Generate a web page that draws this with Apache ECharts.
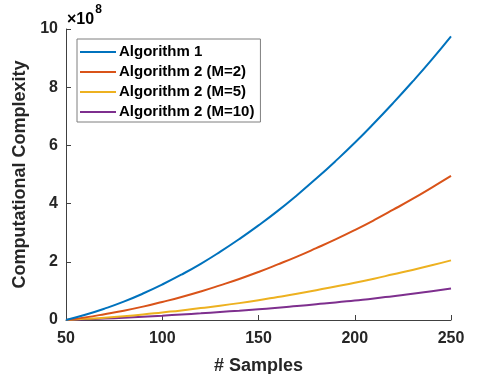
<!DOCTYPE html>
<html>
<head>
<meta charset="utf-8">
<script src="https://cdn.jsdelivr.net/npm/echarts@6/dist/echarts.min.js"></script>
<style>html,body{margin:0;padding:0;background:#fff;}#c{width:498px;height:374px;}</style>
</head>
<body>
<div id="c"></div>
<script>
// Data (values in units of 1e8)
var samples = [50,60,70,80,90,100,110,120,130,140,150,160,170,180,190,200,210,220,230,240,250];
var alg1 = [0,0.18,0.39,0.63,0.91,1.22,1.56,1.93,2.34,2.78,3.25,3.75,4.29,4.86,5.46,6.09,6.76,7.46,8.19,8.95,9.75];
var alg2M2 = [0,0.09,0.20,0.32,0.46,0.62,0.79,0.98,1.19,1.41,1.65,1.91,2.18,2.47,2.77,3.09,3.43,3.79,4.16,4.55,4.95];
var alg2M5 = [0,0.04,0.08,0.13,0.19,0.26,0.33,0.41,0.49,0.58,0.68,0.79,0.90,1.02,1.15,1.28,1.42,1.57,1.72,1.88,2.05];
var alg2M10 = [0,0.025,0.05,0.08,0.115,0.15,0.19,0.23,0.275,0.32,0.37,0.42,0.48,0.54,0.60,0.67,0.74,0.82,0.90,0.99,1.08];
var seriesNames = ['Algorithm 1','Algorithm 2 (M=2)','Algorithm 2 (M=5)','Algorithm 2 (M=10)'];
var seriesColors = ['#0072BD','#D95319','#EDB120','#7E2F8E'];
var xTicks = [50,100,150,200,250];
var yTicks = [0,2,4,6,8,10];

function pairs(arr){ return samples.map(function(s,i){ return [s, arr[i]]; }); }
var allData = [alg1, alg2M2, alg2M5, alg2M10];

var FONT = '"Liberation Sans", Arial, Helvetica, sans-serif';
var axisColor = '#404040';
var chart = echarts.init(document.getElementById('c'), null, {renderer:'canvas'});
chart.setOption({
  animation: false,
  backgroundColor: '#fff',
  grid: {left: 66, right: 47, top: 29, bottom: 54, containLabel: false, outerBoundsMode: 'none'},
  legend: {
    left: 77, top: 39,
    orient: 'vertical',
    data: seriesNames.map(function(n){ return {name:n, icon:'rect'}; }),
    itemWidth: 36, itemHeight: 2, itemGap: 4,
    padding: [5, 6, 2, 3],
    borderColor: '#7f7f7f', borderWidth: 1,
    backgroundColor: '#fff',
    textStyle: {fontFamily: FONT, fontWeight: 'bold', fontSize: 15, color: '#000', lineHeight: 16, padding: [0,0,0,-2]}
  },
  xAxis: {
    type: 'value', min: 50, max: 250, interval: 50,
    name: '# Samples', nameLocation: 'middle', nameGap: 37,
    nameTextStyle: {fontFamily: FONT, fontWeight: 'bold', fontSize: 18, color: '#262626'},
    axisLine: {show: true, onZero: false, lineStyle: {color: axisColor, width: 1}},
    axisTick: {show: true, inside: true, length: 5, lineStyle: {color: axisColor}},
    axisLabel: {fontFamily: FONT, fontWeight: 'bold', fontSize: 16, color: '#262626', margin: 11,
      formatter: function(v){ return xTicks.indexOf(v) >= 0 ? String(v) : ''; }},
    splitLine: {show: false}
  },
  yAxis: {
    type: 'value', min: 0, max: 10, interval: 2,
    name: 'Computational Complexity', nameLocation: 'middle', nameGap: 24,
    nameTextStyle: {fontFamily: FONT, fontWeight: 'bold', fontSize: 18, color: '#262626'},
    axisLine: {show: true, onZero: false, lineStyle: {color: axisColor, width: 1}},
    axisTick: {show: true, inside: true, length: 5, lineStyle: {color: axisColor}},
    axisLabel: {fontFamily: FONT, fontWeight: 'bold', fontSize: 16, color: '#262626', margin: 8,
      formatter: function(v){ return yTicks.indexOf(v) >= 0 ? String(v) : ''; }},
    splitLine: {show: false}
  },
  graphic: [{
    type: 'text', left: 67, top: 4,
    style: {
      text: '{a|×10}{b|8}',
      rich: {
        a: {fontFamily: FONT, fontSize: 16, fontWeight: 'bold', color: '#262626', padding: [8,0,0,0]},
        b: {fontFamily: FONT, fontSize: 12, fontWeight: 'bold', color: '#262626', verticalAlign: 'top', padding: [0,0,6,1]}
      }
    }
  }],
  series: allData.map(function(d, i){
    return {
      name: seriesNames[i], type: 'line', data: pairs(d),
      showSymbol: false, symbol: 'none', smooth: true,
      lineStyle: {color: seriesColors[i], width: 2},
      itemStyle: {color: seriesColors[i]},
      z: 2 + (3 - i)
    };
  })
});
</script>
</body>
</html>
